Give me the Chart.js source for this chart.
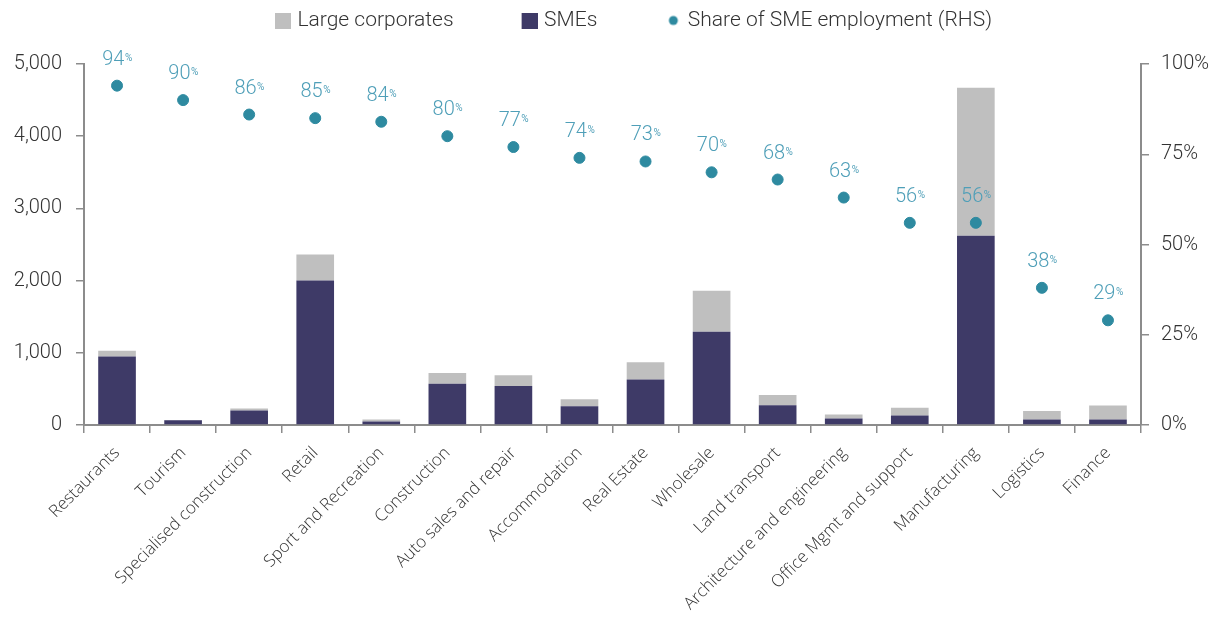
<!DOCTYPE html>
<html><head><meta charset="utf-8">
<script src="https://cdn.jsdelivr.net/npm/chart.js@4"></script>
<style>html,body{margin:0;padding:0;background:#fff}#wrap{width:1209px;height:627px}</style>
</head><body><div id="wrap"><canvas id="c" width="1209" height="627"></canvas></div>
<script>
const categories = ["Restaurants","Tourism","Specialised construction","Retail","Sport and Recreation","Construction","Auto sales and repair","Accommodation","Real Estate","Wholesale","Land transport","Architecture and engineering","Office Mgmt and support","Manufacturing","Logistics","Finance"];
const smes = [950,65,200,2000,50,570,540,260,630,1290,275,90,130,2620,75,75];
const largeCorporates = [80,5,30,360,25,150,150,95,240,570,140,55,110,2050,120,195];
const smeShare = [94,90,86,85,84,80,77,74,73,70,68,63,56,56,38,29];
const leftTicks = [0,1000,2000,3000,4000,5000];
const rightTicks = [0,25,50,75,100];

const FONT = "Roboto";
const XFONT = "'Open Sans'";
const TEXT = "#333333";
const AXIS = "#8c8c8c";
const C_SME = "#3e3a67";
const C_LARGE = "#bfbfbf";
const C_DOT = "#2e8aa0";
const C_LBL = "#4f9fb8";
const LEG_B = 70;      // legend box slot width
const LEGEND_H = 64;   // legend block height

function swatch(kind, color){
  const cv = document.createElement('canvas');
  cv.width = LEG_B + 8; cv.height = 16;
  const g = cv.getContext('2d');
  g.fillStyle = color;
  if (kind === 'rect') { g.fillRect(LEG_B - 8, 0, 16, 16); }
  else { g.beginPath(); g.arc(LEG_B, 8, 4.5, 0, Math.PI*2); g.fill(); }
  return cv;
}
const swLarge = swatch('rect', C_LARGE), swSme = swatch('rect', C_SME), swDot = swatch('circle', C_DOT);

const legendFix = {
  id: 'legendFix',
  beforeLayout(chart){
    const lg = chart.legend;
    if (lg && !lg._fixed) {
      const orig = lg.fit;
      lg.fit = function(){ orig.call(this); this.height = LEGEND_H; };
      lg._fixed = true;
    }
  }
};

const labelPlugin = {
  id: 'pctLabels',
  afterDatasetsDraw(chart){
    const ctx = chart.ctx;
    const meta = chart.getDatasetMeta(2);
    ctx.save();
    ctx.fillStyle = C_LBL;
    ctx.textBaseline = 'alphabetic';
    meta.data.forEach((pt, i) => {
      const num = String(smeShare[i]);
      const big = `300 20px ${FONT}`, small = `400 10px ${FONT}`;
      ctx.font = big; const w1 = ctx.measureText(num).width;
      ctx.font = small; const w2 = ctx.measureText('%').width;
      const x0 = pt.x - (w1 + w2) / 2;
      const yb = pt.y - 21;
      ctx.font = big; ctx.textAlign = 'left'; ctx.fillText(num, x0, yb);
      ctx.font = small; ctx.fillText('%', x0 + w1 + 0.5, yb - 4);
    });
    ctx.restore();
  }
};

new Chart(document.getElementById('c'), {
  type: 'bar',
  data: {
    labels: categories,
    datasets: [
      { label: 'SMEs', data: smes, backgroundColor: C_SME, stack: 's', yAxisID: 'y', barPercentage: 0.57, categoryPercentage: 1.0, order: 2 },
      { label: 'Large corporates', data: largeCorporates, backgroundColor: C_LARGE, stack: 's', yAxisID: 'y', barPercentage: 0.57, categoryPercentage: 1.0, order: 2 },
      { type: 'line', label: 'Share of SME employment (RHS)', data: smeShare, yAxisID: 'y1', showLine: false, pointRadius: 5.5, pointHoverRadius: 5.5, pointBackgroundColor: C_DOT, pointBorderColor: C_DOT, backgroundColor: C_DOT, borderColor: C_DOT, order: 1 }
    ]
  },
  options: {
    responsive: false,
    animation: false,
    events: [],
    layout: { padding: 0 },
    plugins: {
      tooltip: { enabled: false },
      legend: {
        position: 'top',
        labels: {
          font: { family: FONT, size: 21, weight: 300 },
          color: TEXT,
          usePointStyle: true,
          pointStyleWidth: LEG_B,
          boxWidth: LEG_B, boxHeight: 16,
          padding: 10,
          generateLabels(chart){
            return [
              { text: 'Large corporates', pointStyle: swLarge, fillStyle: C_LARGE, strokeStyle: C_LARGE, lineWidth: 0, datasetIndex: 1, fontColor: TEXT },
              { text: 'SMEs', pointStyle: swSme, fillStyle: C_SME, strokeStyle: C_SME, lineWidth: 0, datasetIndex: 0, fontColor: TEXT },
              { text: 'Share of SME employment (RHS)', pointStyle: swDot, fillStyle: C_DOT, strokeStyle: C_DOT, lineWidth: 0, datasetIndex: 2, fontColor: TEXT }
            ];
          }
        }
      }
    },
    scales: {
      x: {
        stacked: true,
        offset: true,
        grid: { display: true, drawOnChartArea: false, drawTicks: true, tickLength: 8, color: AXIS, lineWidth: 1.5, offset: true },
        border: { display: true, color: AXIS, width: 2 },
        ticks: { font: { family: XFONT, size: 17, weight: 300 }, color: TEXT, maxRotation: 45, minRotation: 45, autoSkip: false, padding: 10 },
        afterFit(s){ s.height = 202; }
      },
      y: {
        position: 'left',
        stacked: true,
        min: 0, max: 5000,
        afterBuildTicks(s){ s.ticks = leftTicks.map(v => ({ value: v })); },
        grid: { display: true, drawOnChartArea: false, drawTicks: true, tickLength: 8, color: AXIS, lineWidth: 1.5 },
        border: { display: true, color: AXIS, width: 2 },
        ticks: { font: { family: FONT, size: 20, weight: 300 }, color: TEXT, padding: 14, callback: v => v.toLocaleString('en-US') },
        afterFit(s){ s.width = 84; }
      },
      y1: {
        position: 'right',
        min: 0, max: 100,
        afterBuildTicks(s){ s.ticks = rightTicks.map(v => ({ value: v })); },
        grid: { display: true, drawOnChartArea: false, drawTicks: true, tickLength: 8, color: AXIS, lineWidth: 1.5 },
        border: { display: true, color: AXIS, width: 2 },
        ticks: { font: { family: FONT, size: 20, weight: 300 }, color: TEXT, padding: 12, callback: v => v + '%' },
        afterFit(s){ s.width = 68; }
      }
    }
  },
  plugins: [legendFix, labelPlugin]
});
</script>
</body></html>
